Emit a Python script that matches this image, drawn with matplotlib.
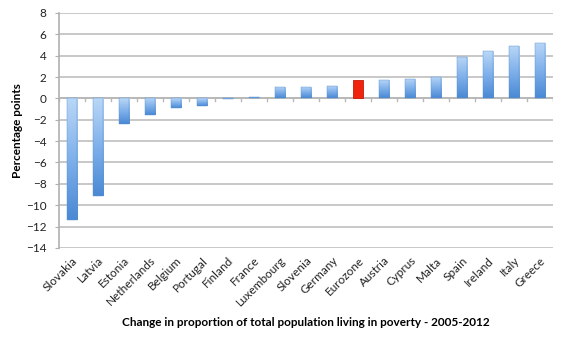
import numpy as np
import matplotlib.pyplot as plt
from matplotlib.colors import LinearSegmentedColormap

countries = ['Slovakia', 'Latvia', 'Estonia', 'Netherlands', 'Belgium', 'Portugal',
             'Finland', 'France', 'Luxembourg', 'Slovenia', 'Germany', 'Eurozone',
             'Austria', 'Cyprus', 'Malta', 'Spain', 'Ireland', 'Italy', 'Greece']
change = [-11.4, -9.1, -2.4, -1.6, -0.9, -0.7, -0.05, 0.15, 1.1, 1.1, 1.2, 1.7,
          1.7, 1.8, 2.0, 3.9, 4.4, 4.9, 5.2]
highlight = 'Eurozone'

plt.rcParams['font.family'] = ['Lato', 'DejaVu Sans']

fig = plt.figure(figsize=(5.67, 3.41), dpi=100)
ax = fig.add_axes([0.104, 0.273, 0.871, 0.689])

x = np.arange(len(countries))
width = 0.4

blues = LinearSegmentedColormap.from_list('blues', ['#4a89d4', '#7fb0ea', '#b9d7f7'])
grad = np.linspace(0, 1, 64).reshape(-1, 1)

for xi, name, val in zip(x, countries, change):
    if name == highlight:
        ax.bar(xi, val, width, color='#f0240e', edgecolor='#c41a08', linewidth=0.6, zorder=3)
        continue
    bar = ax.bar(xi, val, width, color='none', edgecolor='#5b8fcf', linewidth=0.3, zorder=3)[0]
    lo, hi = min(0, val), max(0, val)
    im = ax.imshow(grad, extent=[xi - width / 2, xi + width / 2, lo, hi], origin='lower',
                   aspect='auto', cmap=blues, zorder=2.5)
    im.set_clip_path(bar)

ax.set_xlim(-0.5, len(countries) - 0.5)
ax.set_ylim(-14, 8)

ax.set_yticks(range(-14, 9, 2))
ax.yaxis.grid(True, color='#c4c4c4', linewidth=1.3)
ax.set_axisbelow(True)
ax.tick_params(axis='y', length=3, pad=6, color='#b0b0b0', labelsize=8.5, labelcolor='#222222')

# zero line with small ticks between categories
ax.axhline(0, color='#b8b8b8', linewidth=1.3, zorder=2)
for b in np.arange(-0.5, len(countries), 1):
    ax.plot([b, b], [0, -0.25], color='#b8b8b8', linewidth=1, zorder=2)

ax.set_xticks(x)
ax.set_xticklabels(countries, rotation=45, ha='right', rotation_mode='anchor', fontsize=8.5)
ax.tick_params(axis='x', length=0, pad=5, labelcolor='#222222')

for s in ['top', 'right', 'bottom']:
    ax.spines[s].set_visible(False)
ax.spines['left'].set_color('#b0b0b0')
ax.spines['left'].set_linewidth(1.2)

ax.set_ylabel('Percentage points', fontsize=8.5, fontweight='bold', labelpad=2)
fig.text(0.54, 0.045, 'Change in proportion of total population living in poverty - 2005-2012',
         ha='center', fontsize=8.5, fontweight='bold')

fig.savefig('out.png', dpi=100)
